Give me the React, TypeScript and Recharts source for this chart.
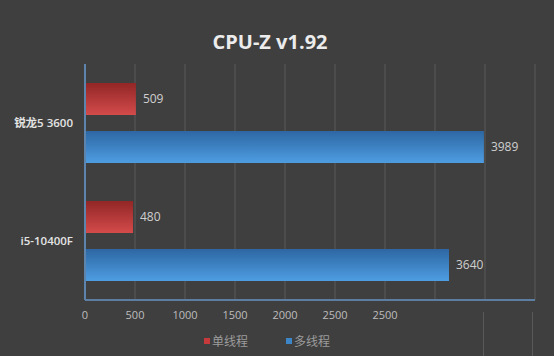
import React from "react";
import { BarChart, Bar, XAxis, YAxis, CartesianGrid, LabelList } from "recharts";

const categories = ["锐龙5 3600", "i5-10400F"];
const singleThread = [509, 480];
const multiThread = [3989, 3640];
const xTicks = [0, 500, 1000, 1500, 2000, 2500, 3000, 3500, 4000, 4500];
const xTickLabels = ["0", "500", "1000", "1500", "2000", "2500", "2500"];
const seriesNames = ["单线程", "多线程"];
const seriesColors = ["#c73a3c", "#3c86c8"];

const data = categories.map((name, i) => ({
  name,
  single: singleThread[i],
  multi: multiThread[i],
}));

const FONT = "'Open Sans', 'Noto Sans CJK SC', sans-serif";

const LegendBox = () => (
  <div
    style={{
      position: "absolute",
      left: 0,
      top: 332,
      width: 554,
      display: "flex",
      justifyContent: "center",
      gap: 38,
      paddingRight: 20,
      boxSizing: "border-box",
      fontFamily: FONT,
      fontSize: 12,
      color: "#9c9c9c",
    }}
  >
    {seriesNames.map((name, i) => (
      <div key={name} style={{ display: "flex", alignItems: "center" }}>
        <span style={{ display: "inline-block", width: 6, height: 6, background: seriesColors[i], marginRight: 2 }} />
        <span>{name}</span>
      </div>
    ))}
  </div>
);

const decoLine = (left: number) => (
  <div
    key={left}
    style={{ position: "absolute", left, top: 312, width: 1, height: 44, background: "#5a5a5a" }}
  />
);

export default function App() {
  return (
    <div
      style={{
        position: "fixed",
        left: 0,
        top: 0,
        width: 554,
        height: 356,
        background: "#3f3f3f",
        fontFamily: FONT,
      }}
    >
      <div
        style={{
          position: "absolute",
          left: 0,
          width: 540,
          top: 28,
          textAlign: "center",
          fontSize: 20,
          fontWeight: 700,
          color: "#ececec",
          fontFamily: FONT,
        }}
      >
        CPU-Z v1.92
      </div>
      {[483, 532].map(decoLine)}
      <BarChart
        width={554}
        height={356}
        data={data}
        layout="vertical"
        margin={{ top: 64, right: 19, bottom: 26, left: 0 }}
        barSize={32}
        barGap={16}
      >
        <defs>
          <linearGradient id="gradRed" x1="0" y1="0" x2="0" y2="1">
            <stop offset="0%" stopColor="#922626" />
            <stop offset="100%" stopColor="#d44b4b" />
          </linearGradient>
          <linearGradient id="gradBlue" x1="0" y1="0" x2="0" y2="1">
            <stop offset="0%" stopColor="#2d67a3" />
            <stop offset="100%" stopColor="#4e9de2" />
          </linearGradient>
        </defs>
        <CartesianGrid horizontal={false} stroke="#5a5a5a" />
        <XAxis
          type="number"
          domain={[0, 4500]}
          ticks={xTicks}
          tickFormatter={(v: number, i: number) => xTickLabels[i] ?? ""}
          axisLine={{ stroke: "#5d7ea3", strokeWidth: 2 }}
          tickLine={false}
          tickMargin={5}
          tick={{ fill: "#bdbdbd", fontSize: 11, fontFamily: FONT }}
          height={30}
        />
        <YAxis
          type="category"
          dataKey="name"
          width={85}
          axisLine={{ stroke: "#5d84ad", strokeWidth: 2 }}
          tickLine={false}
          tickMargin={6}
          tick={{ fill: "#e4e4e4", fontSize: 11.5, fontWeight: 600, fontFamily: FONT }}
        />
        <Bar dataKey="single" name={seriesNames[0]} fill="url(#gradRed)" isAnimationActive={false}>
          <LabelList dataKey="single" position="right" offset={7} fill="#cfcfcf" fontSize={12} fontFamily={FONT} />
        </Bar>
        <Bar dataKey="multi" name={seriesNames[1]} fill="url(#gradBlue)" isAnimationActive={false}>
          <LabelList dataKey="multi" position="right" offset={7} fill="#cfcfcf" fontSize={12} fontFamily={FONT} />
        </Bar>
      </BarChart>
      <LegendBox />
    </div>
  );
}
